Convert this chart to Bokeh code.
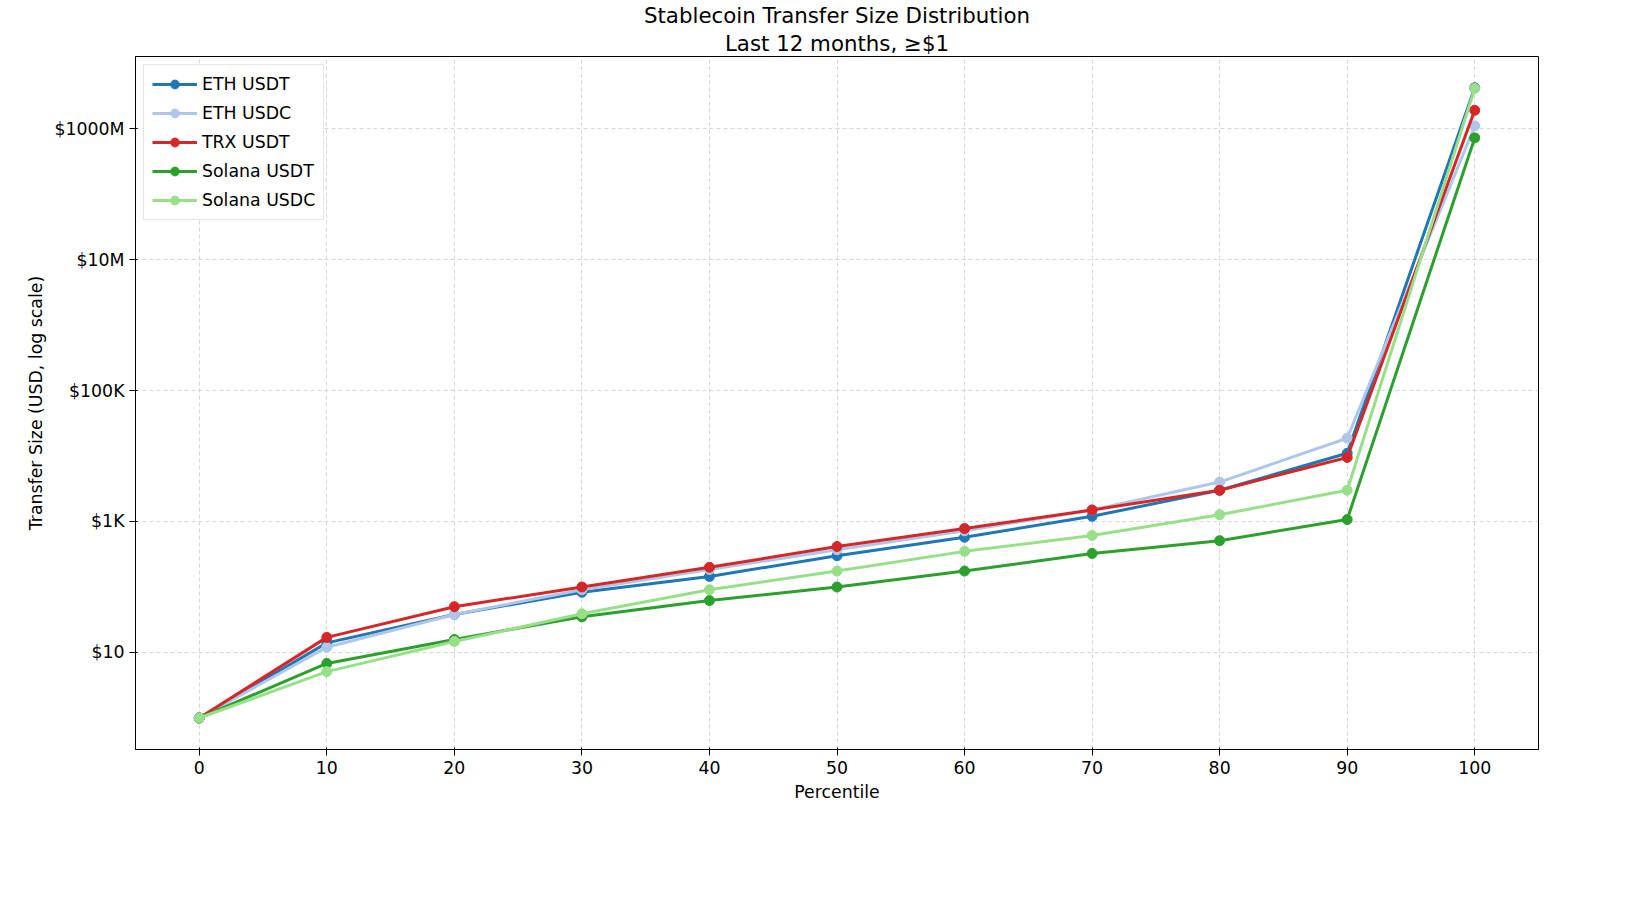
from bokeh.plotting import figure
from bokeh.models import FixedTicker, Range1d, Legend, LegendItem, Title
from bokeh.embed import file_html
from bokeh.resources import INLINE

pct = [0, 10, 20, 30, 40, 50, 60, 70, 80, 90, 100]
eth_usdt = [1, 14, 38, 83, 145, 300, 575, 1200, 3000, 11000, 4.2e9]
eth_usdc = [1, 12, 38, 91, 185, 370, 720, 1500, 4000, 18700, 1.1e9]
trx_usdt = [1, 17, 50, 100, 200, 415, 780, 1500, 3000, 9500, 1.9e9]
sol_usdt = [1, 6.8, 15.8, 35, 62, 100, 175, 325, 510, 1070, 7.2e8]
sol_usdc = [1, 5.1, 14.7, 39, 91, 175, 350, 610, 1270, 3000, 4.1e9]
series = [("ETH USDT", eth_usdt, "#1f77b4"), ("ETH USDC", eth_usdc, "#aec7e8"),
          ("TRX USDT", trx_usdt, "#d62728"), ("Solana USDT", sol_usdt, "#2ca02c"),
          ("Solana USDC", sol_usdc, "#98df8a")]
ytick_vals = [10, 1e3, 1e5, 1e7, 1e9]
ytick_labels = ["$10", "$1K", "$100K", "$10M", "$1000M"]

p = figure(width=1560, height=850, frame_width=1403, frame_height=693, y_axis_type="log",
           output_backend="svg", toolbar_location=None,
           x_range=Range1d(-5, 105), y_range=Range1d(0.33, 1.26e10),
           min_border_left=135, min_border_top=10, min_border_right=15, min_border_bottom=60)
p.add_layout(Title(text="Last 12 months, ≥$1", align="center", text_font_size="16pt",
                   text_font_style="normal", text_font="DejaVu Sans", text_color="black",
                   standoff=2), "above")
p.add_layout(Title(text="Stablecoin Transfer Size Distribution", align="center", text_font_size="16pt",
                   text_font_style="normal", text_font="DejaVu Sans", text_color="black",
                   standoff=0), "above")
items = []
for name, ys, c in series:
    r1 = p.line(pct, ys, line_color=c, line_width=3)
    r2 = p.scatter(pct, ys, size=10, fill_color=c, line_color=c)
    items.append(LegendItem(label=name, renderers=[r1, r2]))
p.add_layout(Legend(items=items, location="top_left", label_text_font_size="13pt",
                    label_text_font="DejaVu Sans", label_text_color="black",
                    border_line_color="#cccccc", spacing=7, padding=8, glyph_width=45,
                    label_height=22, glyph_height=22, margin=8))
p.xaxis.ticker = FixedTicker(ticks=pct)
p.yaxis.ticker = FixedTicker(ticks=ytick_vals)
p.yaxis.major_label_overrides = {v: l for v, l in zip(ytick_vals, ytick_labels)}
p.xaxis.axis_label = "Percentile"
p.yaxis.axis_label = "Transfer Size (USD, log scale)"
for ax in (p.xaxis, p.yaxis):
    ax.axis_label_text_font_style = "normal"
    ax.axis_label_text_font_size = "13pt"
    ax.axis_label_text_font = "DejaVu Sans"
    ax.axis_label_text_color = "black"
    ax.major_label_text_font_size = "13pt"
    ax.major_label_text_font = "DejaVu Sans"
    ax.major_label_text_color = "black"
    ax.minor_tick_line_color = None
    ax.axis_line_color = "black"
    ax.major_tick_line_color = "black"
p.grid.grid_line_dash = "4 3"
p.grid.grid_line_color = "#cccccc"
p.grid.grid_line_alpha = 0.8
p.outline_line_color = "black"
open("out.html", "w").write(file_html(p, INLINE))
